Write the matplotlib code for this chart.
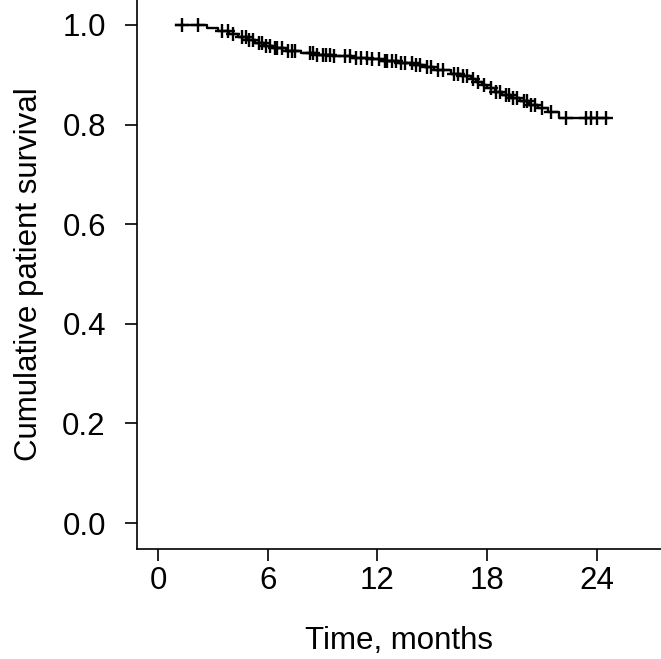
import numpy as np
import matplotlib
matplotlib.use("Agg")
import matplotlib.pyplot as plt

plt.rcParams['font.family'] = ['Liberation Sans', 'DejaVu Sans']

# Kaplan-Meier step levels (time in months, survival after the step)
step_times = [1.0, 2.7, 3.3, 3.9, 4.4, 4.9, 5.3, 5.8, 6.3, 7.0, 7.8, 8.6, 9.5,
              10.6, 11.5, 12.3, 13.2, 14.0, 14.6, 15.1, 16.0, 16.6, 17.1, 17.4,
              17.7, 18.0, 18.4, 18.8, 19.3, 19.8, 20.3, 20.8, 21.3, 21.9]
step_surv = [1.0, 0.994, 0.988, 0.982, 0.976, 0.970, 0.964, 0.958, 0.953, 0.948,
             0.944, 0.940, 0.937, 0.934, 0.931, 0.928, 0.924, 0.920, 0.915, 0.910,
             0.902, 0.898, 0.892, 0.886, 0.880, 0.873, 0.866, 0.860, 0.853, 0.847,
             0.840, 0.834, 0.826, 0.814]
end_time = 24.6

# censored observations (months)
censor_times = [1.3, 2.2, 3.5, 3.8, 4.1, 4.6, 4.8, 5.0, 5.2, 5.5, 5.7, 5.9, 6.1,
                6.4, 6.5, 6.8, 7.1, 7.3, 7.5, 8.3, 8.5, 8.7, 9.0, 9.2, 9.4, 9.6,
                10.2, 10.5, 10.8, 11.1, 11.4, 11.7, 12.1, 12.4, 12.5, 12.8, 13.0,
                13.3, 13.5, 13.9, 14.1, 14.3, 14.7, 14.9, 15.3, 15.6, 16.2, 16.4,
                16.7, 16.9, 17.2, 17.5, 17.8, 18.2, 18.5, 18.7, 19.0, 19.2, 19.4,
                19.6, 20.0, 20.2, 20.4, 20.6, 21.0, 21.5, 22.3, 23.4, 23.7, 24.0,
                24.5]

x_ticks = [0, 6, 12, 18, 24]
y_ticks = [0.0, 0.2, 0.4, 0.6, 0.8, 1.0]

fig = plt.figure(figsize=(6.61, 6.59), dpi=100)
ax = fig.add_axes([137 / 661, 110 / 659, 524 / 661, 549 / 659])

xs = step_times + [end_time]
ys = step_surv + [step_surv[-1]]
ax.step(xs, ys, where='post', color='black', lw=1.7)

idx = np.searchsorted(step_times, censor_times, side='right') - 1
cy = np.array(step_surv)[idx]
ax.plot(censor_times, cy, ls='none', marker='+', color='black', ms=10, mew=1.7)

ax.set_xlim(-1.148, 27.5)
ax.set_ylim(-0.0522, 1.0502)
ax.set_xticks(x_ticks)
ax.set_yticks(y_ticks)
ax.set_yticklabels([f"{v:.1f}" for v in y_ticks])
ax.spines['top'].set_visible(False)
ax.spines['right'].set_visible(False)
for s in ('left', 'bottom'):
    ax.spines[s].set_linewidth(1.2)
ax.tick_params(axis='both', labelsize=22.5, length=8.5, width=1.2)
ax.tick_params(axis='x', pad=4)
ax.tick_params(axis='y', pad=14)
ax.set_xlabel("Time, months", fontsize=22.5, labelpad=21)
ax.set_ylabel("Cumulative patient survival", fontsize=22.5, labelpad=13)

fig.savefig("out.png", dpi=100)
